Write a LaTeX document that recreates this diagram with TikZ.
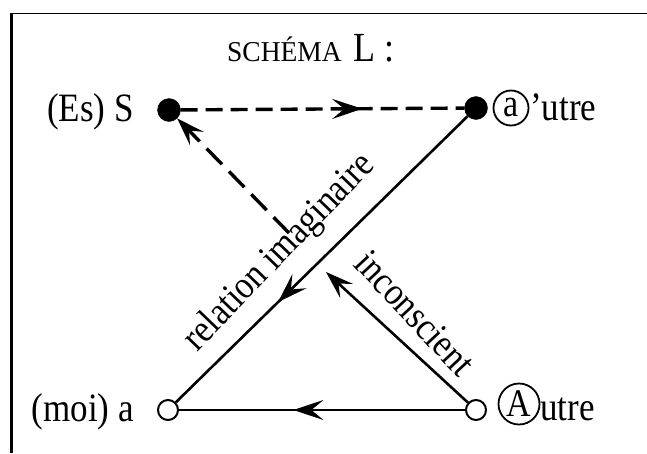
\documentclass[tikz,border=0pt]{standalone}
\usepackage{fontspec}
\setmainfont{Liberation Serif}
\usetikzlibrary{arrows.meta,decorations.markings}
\newcommand{\tall}[1]{\scalebox{1}[1.15]{#1}}
\begin{document}
\begin{tikzpicture}[x=1pt,y=-1pt,
  lbl/.style={font=\fontsize{35}{35}\selectfont, inner sep=0pt},
  rlbl/.style={font=\fontsize{34}{34}\selectfont, inner sep=0pt},
  fdot/.style={circle,fill=black,draw=black,minimum size=23pt,inner sep=0pt},
  odot/.style={circle,fill=white,draw=black,line width=2pt,minimum size=20pt,inner sep=0pt},
  ring/.style={circle,draw=black,line width=1.8pt,inner sep=0pt,font=\fontsize{34}{34}\selectfont},
  tip/.style={-{Stealth[length=28pt,width=19pt,inset=11pt]}},
  conn/.style={line width=2.6pt},
  dsh/.style={line width=3.4pt,dash pattern=on 17pt off 8pt},
  dshlong/.style={line width=3.4pt,dash pattern=on 22pt off 10pt},
  midtip/.style={postaction={decorate},decoration={markings,mark=at position #1 with {\arrow{Stealth[length=30pt,width=20pt,inset=12pt]}}}}
]
\useasboundingbox (0,0) rectangle (647,453);
\fill[white] (0,0) rectangle (647,453);
% frame
\draw[line width=3pt] (11,453) -- (11,13.5);
\draw[line width=1.8pt] (9.5,13.5) -- (647,13.5);

% title
\node[anchor=base,inner sep=0pt] (title) at (311,61) {\scalebox{1.1}[1.15]{\fontsize{25}{25}\selectfont SCHÉMA}\hspace{12pt}\tall{\fontsize{36}{36}\selectfont L :}};

% points
\node[fdot] (S) at (169,110) {};
\node[fdot] (a) at (476,108) {};
\node[odot] (m) at (168,410) {};
\node[odot] (A) at (476,410) {};
\coordinate (ic) at (326,272);
\coordinate (dd) at (289,233);

% labels
\node[lbl,anchor=base east] (esS) at (134,121) {\tall{(Es) S}};
\node[lbl,anchor=base east] (moia) at (134,421) {\tall{(moi) a}};
\node[ring,minimum size=35pt] (ca) at (511,108) {\tall{a}};
\node[lbl,anchor=base west] (autre) at (530,120) {\tall{’utre}};
\node[ring,minimum size=41pt] (cA) at (519,404) {\tall{A}};
\node[lbl,anchor=base west] (Autre) at (540,420) {\tall{utre}};

% connectors
\draw[dsh,midtip=0.64] (S) -- (a);
\draw[conn,midtip=0.65] (a) -- (m);
\draw[conn,midtip=0.6] (A) -- (m);
\draw[conn,tip] (A) -- (ic);
\draw[dshlong,tip] (dd) -- (S);

% rotated labels
\node[rlbl,rotate=46] (rel) at (280,253) {\tall{relation imaginaire}};
\node[rlbl,rotate=-47] (inc) at (415,313) {\tall{inconscient}};
\end{tikzpicture}
\end{document}
